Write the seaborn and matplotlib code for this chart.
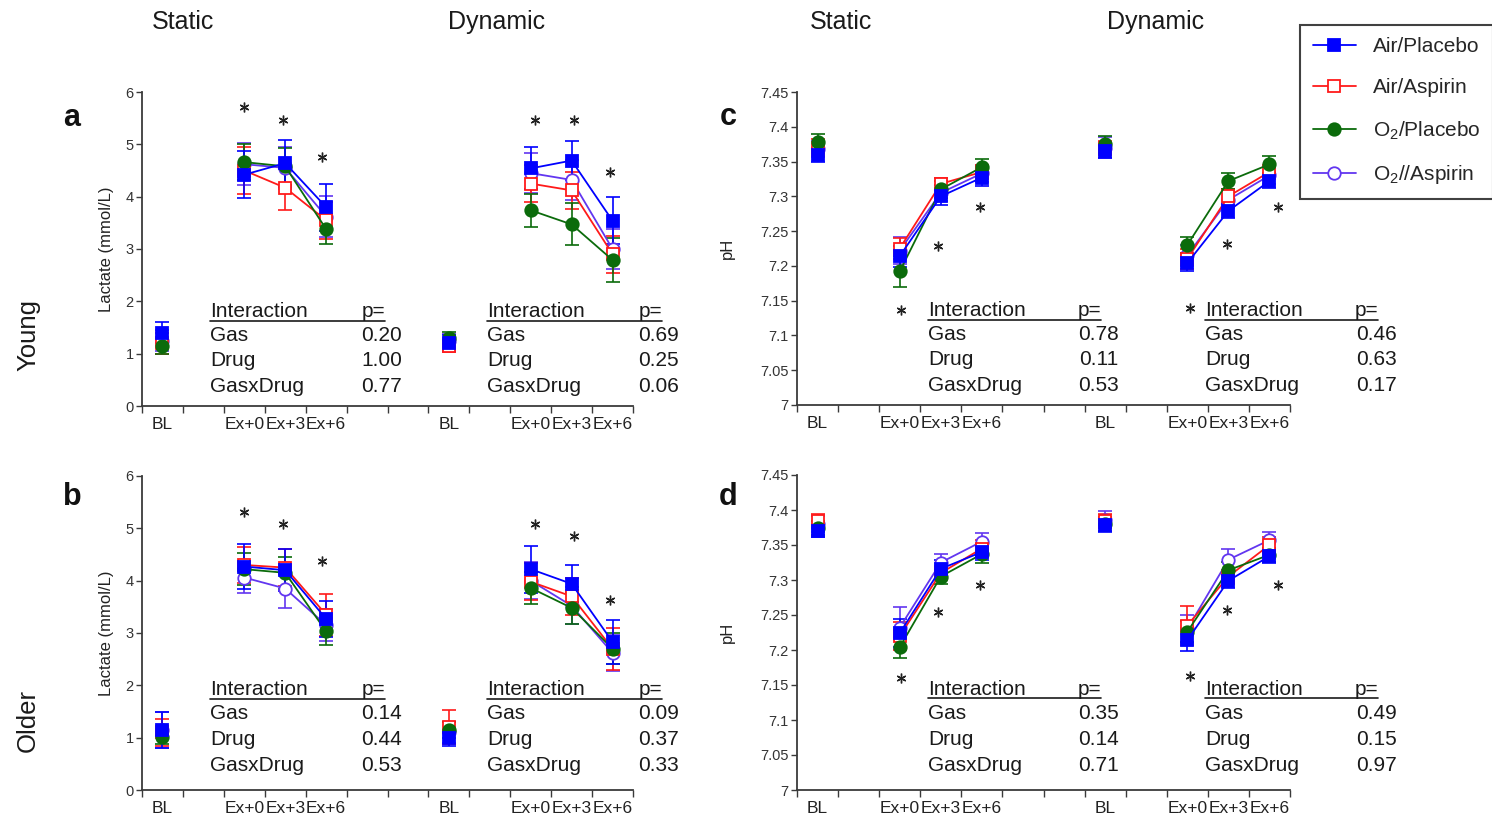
import numpy as np
import pandas as pd
import matplotlib
matplotlib.use("Agg")
import matplotlib.pyplot as plt
import matplotlib.transforms as mtransforms
from matplotlib.lines import Line2D
import seaborn as sns

sns.set_style("ticks")
plt.rcParams['font.family'] = ['Liberation Sans', 'DejaVu Sans']
plt.rcParams['mathtext.fontset'] = 'custom'
plt.rcParams['mathtext.rm'] = 'Liberation Sans'
plt.rcParams['mathtext.it'] = 'Liberation Sans:italic'

# ---------------- data ----------------
time_points = ["BL", "Ex+0", "Ex+3", "Ex+6"]
protocols = ["Static", "Dynamic"]
groups = ["Air/Placebo", "Air/Aspirin", "O$_2$/Placebo", "O$_2$//Aspirin"]
panels = ["a", "b", "c", "d"]
ages = ["Young", "Older"]

# values: static BL, Ex+0, Ex+3, Ex+6, dynamic BL, Ex+0, Ex+3, Ex+6
# panel a: young lactate
a_air_placebo = [1.40, 4.42, 4.64, 3.80, 1.20, 4.54, 4.69, 3.54]
a_air_aspirin = [1.20, 4.50, 4.17, 3.55, 1.15, 4.25, 4.12, 2.90]
a_o2_placebo = [1.15, 4.66, 4.58, 3.38, 1.30, 3.74, 3.47, 2.79]
a_o2_aspirin = [1.25, 4.62, 4.55, 3.62, 1.25, 4.45, 4.32, 3.00]
a_air_placebo_sd = [0.20, 0.45, 0.45, 0.45, 0.15, 0.40, 0.38, 0.45]
a_air_aspirin_sd = [0.20, 0.45, 0.42, 0.35, 0.12, 0.35, 0.35, 0.35]
a_o2_placebo_sd = [0.15, 0.35, 0.35, 0.28, 0.12, 0.32, 0.40, 0.42]
a_o2_aspirin_sd = [0.20, 0.40, 0.40, 0.40, 0.12, 0.38, 0.38, 0.38]

# panel b: older lactate
b_air_placebo = [1.15, 4.27, 4.20, 3.27, 0.99, 4.22, 3.94, 2.83]
b_air_aspirin = [1.10, 4.30, 4.25, 3.35, 1.20, 3.98, 3.70, 2.70]
b_o2_placebo = [1.02, 4.22, 4.15, 3.03, 1.15, 3.86, 3.48, 2.70]
b_o2_aspirin = [1.15, 4.06, 3.85, 3.15, 1.10, 4.00, 3.52, 2.62]
b_air_placebo_sd = [0.35, 0.43, 0.40, 0.35, 0.15, 0.45, 0.35, 0.42]
b_air_aspirin_sd = [0.25, 0.35, 0.35, 0.40, 0.32, 0.35, 0.35, 0.40]
b_o2_placebo_sd = [0.15, 0.30, 0.30, 0.25, 0.15, 0.30, 0.30, 0.30]
b_o2_aspirin_sd = [0.35, 0.30, 0.38, 0.30, 0.20, 0.35, 0.35, 0.35]

# panel c: young pH
c_air_placebo = [7.360, 7.214, 7.300, 7.327, 7.365, 7.204, 7.279, 7.322]
c_air_aspirin = [7.370, 7.225, 7.318, 7.335, 7.370, 7.210, 7.300, 7.335]
c_o2_placebo = [7.378, 7.192, 7.310, 7.342, 7.375, 7.230, 7.322, 7.346]
c_o2_aspirin = [7.368, 7.222, 7.305, 7.333, 7.370, 7.215, 7.295, 7.330]
c_air_placebo_sd = [0.010, 0.015, 0.012, 0.012, 0.010, 0.012, 0.010, 0.010]
c_air_aspirin_sd = [0.012, 0.015, 0.008, 0.010, 0.010, 0.015, 0.010, 0.010]
c_o2_placebo_sd = [0.012, 0.022, 0.012, 0.012, 0.012, 0.012, 0.012, 0.012]
c_o2_aspirin_sd = [0.012, 0.020, 0.012, 0.012, 0.015, 0.015, 0.012, 0.012]

# panel d: older pH
d_air_placebo = [7.370, 7.224, 7.316, 7.340, 7.378, 7.214, 7.299, 7.334]
d_air_aspirin = [7.385, 7.220, 7.310, 7.345, 7.385, 7.235, 7.305, 7.350]
d_o2_placebo = [7.375, 7.204, 7.305, 7.337, 7.380, 7.226, 7.314, 7.336]
d_o2_aspirin = [7.380, 7.232, 7.325, 7.355, 7.386, 7.230, 7.329, 7.357]
d_air_placebo_sd = [0.008, 0.020, 0.012, 0.012, 0.010, 0.015, 0.010, 0.010]
d_air_aspirin_sd = [0.010, 0.020, 0.010, 0.012, 0.010, 0.028, 0.010, 0.012]
d_o2_placebo_sd = [0.010, 0.015, 0.010, 0.012, 0.010, 0.015, 0.012, 0.010]
d_o2_aspirin_sd = [0.012, 0.030, 0.012, 0.012, 0.012, 0.020, 0.015, 0.012]

# significance asterisks (static Ex+0, Ex+3, Ex+6, dynamic Ex+0, Ex+3, Ex+6)
a_star = [5.71, 5.46, 4.75, 5.46, 5.46, 4.47]
b_star = [5.31, 5.08, 4.38, 5.08, 4.85, 3.63]
c_star = [7.137, 7.229, 7.284, 7.140, 7.232, 7.285]
d_star = [7.160, 7.254, 7.293, 7.163, 7.257, 7.293]

# interaction p-values (Gas, Drug, GasxDrug) for static, dynamic
interaction_terms = ["Gas", "Drug", "GasxDrug"]
a_p_static = ["0.20", "1.00", "0.77"]
a_p_dynamic = ["0.69", "0.25", "0.06"]
b_p_static = ["0.14", "0.44", "0.53"]
b_p_dynamic = ["0.09", "0.37", "0.33"]
c_p_static = ["0.78", "0.11", "0.53"]
c_p_dynamic = ["0.46", "0.63", "0.17"]
d_p_static = ["0.35", "0.14", "0.71"]
d_p_dynamic = ["0.49", "0.15", "0.97"]

values = {
    "a": [a_air_placebo, a_air_aspirin, a_o2_placebo, a_o2_aspirin],
    "b": [b_air_placebo, b_air_aspirin, b_o2_placebo, b_o2_aspirin],
    "c": [c_air_placebo, c_air_aspirin, c_o2_placebo, c_o2_aspirin],
    "d": [d_air_placebo, d_air_aspirin, d_o2_placebo, d_o2_aspirin],
}
errors = {
    "a": [a_air_placebo_sd, a_air_aspirin_sd, a_o2_placebo_sd, a_o2_aspirin_sd],
    "b": [b_air_placebo_sd, b_air_aspirin_sd, b_o2_placebo_sd, b_o2_aspirin_sd],
    "c": [c_air_placebo_sd, c_air_aspirin_sd, c_o2_placebo_sd, c_o2_aspirin_sd],
    "d": [d_air_placebo_sd, d_air_aspirin_sd, d_o2_placebo_sd, d_o2_aspirin_sd],
}
stars = {"a": a_star, "b": b_star, "c": c_star, "d": d_star}
pvals = {"a": (a_p_static, a_p_dynamic), "b": (b_p_static, b_p_dynamic),
         "c": (c_p_static, c_p_dynamic), "d": (d_p_static, d_p_dynamic)}

# ---------------- layout / style ----------------
slot = {("Static", "BL"): 0.5, ("Static", "Ex+0"): 2.5, ("Static", "Ex+3"): 3.5, ("Static", "Ex+6"): 4.5,
        ("Dynamic", "BL"): 7.5, ("Dynamic", "Ex+0"): 9.5, ("Dynamic", "Ex+3"): 10.5, ("Dynamic", "Ex+6"): 11.5}
colors = ["#0000FF", "#FF1A1A", "#0B6B0B", "#6236F0"]
markers = ["s", "s", "o", "o"]
filled = [True, False, True, False]
draw_order = [3, 1, 2, 0]

rows = []
for p in panels:
    for gi, g in enumerate(groups):
        for k in range(8):
            proto = protocols[k // 4]
            tp = time_points[k % 4]
            seg = proto + ("-BL" if tp == "BL" else "-Ex")
            rows.append(dict(panel=p, group=g, gi=gi, x=slot[(proto, tp)],
                             y=values[p][gi][k], err=errors[p][gi][k], seg=seg))
df = pd.DataFrame(rows)

W, H = 1492, 818
fig = plt.figure(figsize=(W / 100, H / 100), dpi=100)
fig.patch.set_facecolor("white")

def px_axes(l, r, t, b):
    return fig.add_axes([l / W, 1 - b / H, (r - l) / W, (b - t) / H])

axes = {
    "a": px_axes(142, 633, 92, 406),
    "b": px_axes(142, 633, 476, 790),
    "c": px_axes(797, 1290, 92, 405),
    "d": px_axes(797, 1290, 475, 790),
}

tick_label_pos = [0.5, 2.5, 3.5, 4.5, 7.5, 9.5, 10.5, 11.5]
tick_label_txt = time_points + time_points
spine_col = "#3a3a3a"

table_x = {  # Interaction x, p= x, value right x (data units)
    "a": [(1.66, 5.38, 6.36), (8.43, 12.15, 13.13)],
    "b": [(1.66, 5.38, 6.36), (8.43, 12.15, 13.13)],
    "c": [(3.19, 6.84, 7.83), (9.93, 13.58, 14.60)],
    "d": [(3.19, 6.84, 7.83), (9.93, 13.58, 14.60)],
}
table_y = {
    "a": [0.283, 0.207, 0.127, 0.045],
    "c": [0.283, 0.207, 0.127, 0.045],
    "b": [0.3025, 0.226, 0.143, 0.0605],
    "d": [0.3025, 0.226, 0.143, 0.0605],
}
star_x = {
    "a": [2.5, 3.45, 4.4, 9.6, 10.55, 11.45],
    "b": [2.5, 3.45, 4.4, 9.6, 10.55, 11.45],
    "c": [2.53, 3.43, 4.45, 9.56, 10.46, 11.7],
    "d": [2.53, 3.43, 4.45, 9.56, 10.46, 11.7],
}

for p, ax in axes.items():
    sub_p = df[df.panel == p]
    for gi in draw_order:
        sub = sub_p[sub_p.gi == gi]
        c = colors[gi]
        ax.errorbar(sub.x, sub.y, yerr=sub.err, fmt="none", ecolor=c,
                    elinewidth=1.2, capsize=5, capthick=1.2, zorder=2)
        sns.lineplot(data=sub, x="x", y="y", units="seg", estimator=None, sort=False,
                     color=c, lw=1.3, marker=markers[gi], markersize=9,
                     markerfacecolor=c if filled[gi] else "white",
                     markeredgecolor=c, markeredgewidth=1.3, ax=ax, legend=False, zorder=3)
    # asterisks
    ax.plot(star_x[p], stars[p], ls="none", marker=(6, 2, 0), ms=7, mew=1.0,
            color="#222222", zorder=4, clip_on=False)

    ax.set_xlim(0, 12)
    ax.set_xticks(range(13))
    ax.set_xticklabels([])
    ax.set_xticks(tick_label_pos, minor=True)
    ax.set_xticklabels(tick_label_txt, minor=True, fontsize=12.5, color="#222222")
    ax.tick_params(axis="x", which="minor", length=0, pad=8)
    ax.tick_params(axis="x", which="major", length=5, width=1, color=spine_col, direction="out")
    ax.tick_params(axis="y", length=4, width=1, color=spine_col, labelsize=10.5,
                   labelcolor="#333333", pad=2)
    if p in ("a", "b"):
        ax.set_ylim(0, 6)
        ax.set_yticks(range(7))
        ax.set_ylabel("Lactate (mmol/L)", fontsize=12, color="#222222")
        ax.yaxis.set_label_coords(-0.058, 0.5)
    else:
        ax.set_ylim(7, 7.45)
        pht = np.round(np.arange(7.0, 7.451, 0.05), 2)
        ax.set_yticks(pht)
        ax.set_yticklabels(["%g" % v for v in pht])
        ax.set_ylabel("pH", fontsize=12, color="#222222")
        ax.yaxis.set_label_coords(-0.126, 0.5)
    ax.set_xlabel("")
    for s in ("top", "right"):
        ax.spines[s].set_visible(False)
    for s in ("left", "bottom"):
        ax.spines[s].set_color(spine_col)
        ax.spines[s].set_linewidth(1.3)

    # interaction tables
    trans = mtransforms.blended_transform_factory(ax.transData, ax.transAxes)
    ys = table_y[p]
    for (xi, xp, xr), pv in zip(table_x[p], pvals[p]):
        ax.text(xi, ys[0], "Interaction", transform=trans, fontsize=15, ha="left",
                va="baseline", color="#1a1a1a", clip_on=False)
        ax.text(xp, ys[0], "p=", transform=trans, fontsize=15, ha="left",
                va="baseline", color="#1a1a1a", clip_on=False)
        ax.add_line(Line2D([xi, xp + 0.55], [ys[0] - 0.012, ys[0] - 0.012], transform=trans,
                           color="#1a1a1a", lw=1.2, clip_on=False))
        for term, val, yy in zip(interaction_terms, pv, ys[1:]):
            ax.text(xi, yy, term, transform=trans, fontsize=15, ha="left",
                    va="baseline", color="#1a1a1a", clip_on=False)
            ax.text(xr, yy, val, transform=trans, fontsize=15, ha="right",
                    va="baseline", color="#1a1a1a", clip_on=False)

# headers and row labels
for xpx, t in zip([183, 497, 841, 1156], protocols + protocols):
    fig.text(xpx / W, 1 - 22 / H, t, fontsize=18, ha="center", va="center", color="#1a1a1a")
for ypx, t in zip([335, 720], ages):
    fig.text(28 / W, 1 - ypx / H, t, fontsize=18.5, ha="center", va="center",
             rotation=90, color="#1a1a1a")
for (xpx, ypx), t in zip([(72, 118), (72, 497), (728, 117), (728, 497)], panels):
    fig.text(xpx / W, 1 - ypx / H, t, fontsize=22, fontweight="bold", ha="center",
             va="center", color="#111111")

# legend
handles = []
for gi, g in enumerate(groups):
    handles.append(Line2D([0], [0], color=colors[gi], lw=1.3, marker=markers[gi], ms=9,
                          mfc=colors[gi] if filled[gi] else "white", mec=colors[gi], mew=1.3))
leg = fig.legend(handles, groups, loc="upper left", bbox_to_anchor=(1300 / W, 1 - 25 / H),
                 fontsize=15, frameon=True, fancybox=False, edgecolor="#111111",
                 handlelength=2.1, handletextpad=0.8, labelspacing=1.05, borderpad=0.6,
                 borderaxespad=0)
leg.get_frame().set_linewidth(1.5)

fig.savefig("out.png", dpi=100, facecolor="white")
